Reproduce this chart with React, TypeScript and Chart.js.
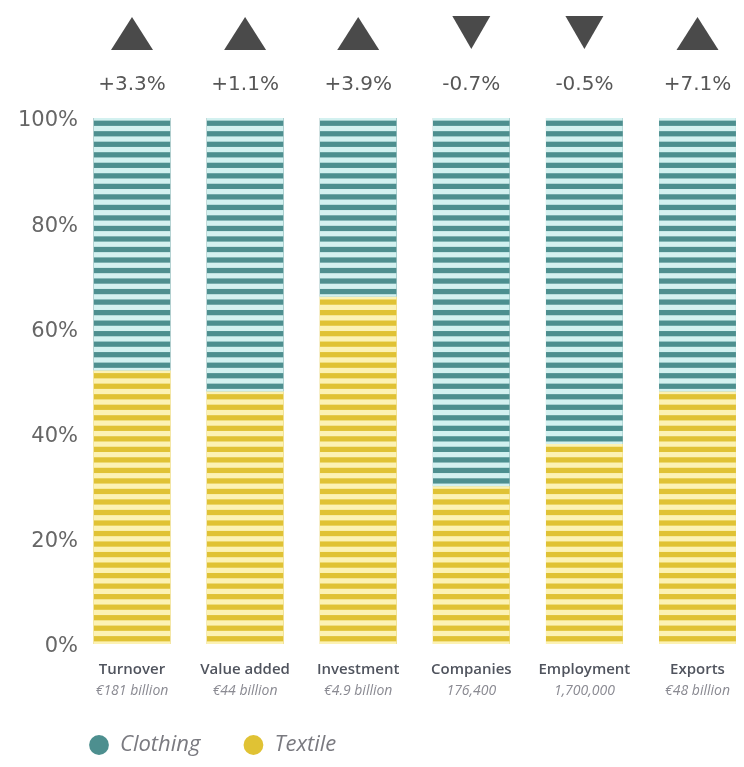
import React, { useEffect, useRef } from 'react';
import { Chart, registerables } from 'chart.js';

Chart.register(...registerables);

const categories = ['Turnover', 'Value added', 'Investment', 'Companies', 'Employment', 'Exports'];
const subLabels = ['€181 billion', '€44 billion', '€4.9 billion', '176,400', '1,700,000', '€48 billion'];
const changes = [3.3, 1.1, 3.9, -0.7, -0.5, 7.1];
const changeLabels = ['+3.3%', '+1.1%', '+3.9%', '-0.7%', '-0.5%', '+7.1%'];
const textileShare = [52, 48, 66, 30, 38, 48];
const clothingShare = [48, 52, 34, 70, 62, 52];
const seriesNames = ['Textile', 'Clothing'];
const yTickStep = 20;
const stripeStep = 2;

const FONT = "'Open Sans', 'DejaVu Sans', sans-serif";
const NUM_FONT = "'DejaVu Sans', 'Open Sans', sans-serif";
const DARK = ['#e0c234', '#4d8f8f'];
const LIGHT = ['#fcf2b4', '#d3f1f0'];

const stripePlugin = {
  id: 'stripes',
  afterDatasetsDraw(chart: any) {
    const { ctx } = chart;
    const ys = chart.scales.y;
    chart.data.datasets.forEach((_ds: any, di: number) => {
      const meta = chart.getDatasetMeta(di);
      meta.data.forEach((bar: any) => {
        const { x, y, base, width } = bar.getProps(['x', 'y', 'base', 'width'], true);
        const top = Math.min(y, base);
        const h = Math.abs(base - y);
        ctx.save();
        ctx.beginPath();
        ctx.rect(x - width / 2, top, width, h);
        ctx.clip();
        ctx.fillStyle = LIGHT[di];
        for (let lo = -stripeStep / 4; lo < 100 + stripeStep; lo += stripeStep) {
          const p0 = ys.getPixelForValue(lo);
          const p1 = ys.getPixelForValue(lo + stripeStep / 2);
          ctx.fillRect(x - width / 2, p1, width, p0 - p1);
        }
        ctx.restore();
      });
    });
  },
};

const legendShiftPlugin = {
  id: 'legendShift',
  afterLayout(chart: any) {
    const lg = chart.legend;
    if (lg) {
      lg.left += 79;
      lg.right += 79;
    }
  },
};

const decorPlugin = {
  id: 'decor',
  afterDraw(chart: any) {
    const { ctx, chartArea } = chart;
    const xs = chart.scales.x;
    const t = chartArea.top;
    ctx.save();
    changes.forEach((c, i) => {
      const cx = xs.getPixelForValue(i);
      ctx.fillStyle = '#4a4a4a';
      ctx.beginPath();
      if (c >= 0) {
        ctx.moveTo(cx - 21, t - 68);
        ctx.lineTo(cx + 21, t - 68);
        ctx.lineTo(cx, t - 101);
      } else {
        ctx.moveTo(cx - 19, t - 102);
        ctx.lineTo(cx + 19, t - 102);
        ctx.lineTo(cx, t - 69);
      }
      ctx.closePath();
      ctx.fill();
      ctx.fillStyle = '#575757';
      ctx.font = `20px ${NUM_FONT}`;
      ctx.textAlign = 'center';
      ctx.textBaseline = 'middle';
      ctx.fillText(changeLabels[i], cx, t - 33);
    });
    ctx.restore();
  },
};

export default function App() {
  const ref = useRef<HTMLCanvasElement>(null);

  useEffect(() => {
    if (!ref.current) return;
    const chart = new Chart(ref.current, {
      type: 'bar',
      data: {
        labels: categories,
        datasets: [
          {
            label: seriesNames[0],
            data: textileShare,
            backgroundColor: DARK[0],
            borderWidth: 0,
            xAxisID: 'x',
            clip: false as any,
          },
          {
            label: seriesNames[1],
            data: clothingShare,
            backgroundColor: DARK[1],
            borderWidth: 0,
            xAxisID: 'x',
            clip: false as any,
          },
        ],
      },
      options: {
        responsive: false,
        animation: false,
        events: [],
        categoryPercentage: 1,
        barPercentage: 0.68,
        layout: { padding: { top: 118, left: 0, right: 46.5, bottom: 1 } },
        scales: {
          x: {
            type: 'category',
            stacked: true,
            offset: false,
            grid: { display: false, drawTicks: false },
            border: { display: false },
            ticks: {
              autoSkip: false,
              maxRotation: 0,
              padding: 17,
              color: '#50545e',
              font: { family: FONT, size: 15, weight: 600 },
            },
            afterFit: (s: any) => {
              s.height = 35;
            },
          },
          y: {
            stacked: true,
            min: 0,
            max: 100,
            grid: { display: false, drawTicks: false },
            border: { display: false },
            ticks: {
              stepSize: yTickStep,
              padding: 54,
              labelOffset: 3,
              color: '#666666',
              font: { family: NUM_FONT, size: 21 },
              callback: (v: any) => `${v}%`,
            },
            afterFit: (s: any) => {
              s.width = 132;
            },
          },
          x2: {
            type: 'category',
            position: 'bottom',
            labels: subLabels,
            offset: false,
            grid: { display: false, drawTicks: false },
            border: { display: false },
            ticks: {
              autoSkip: false,
              maxRotation: 0,
              padding: 4,
              color: '#8a8a92',
              font: { family: FONT, size: 14, style: 'italic' },
            },
            afterFit: (s: any) => {
              s.height = 45;
            },
          },
        } as any,
        plugins: {
          tooltip: { enabled: false },
          legend: {
            position: 'bottom',
            align: 'start',
            reverse: true,
            labels: {
              usePointStyle: true,
              pointStyle: 'circle',
              boxWidth: 20,
              boxHeight: 14,
              padding: 10,
              color: '#7a7a80',
              font: { family: FONT, size: 22, style: 'italic' },
              generateLabels: (c: any) => {
                const items = (Chart.defaults.plugins.legend.labels as any).generateLabels(c);
                return items.map((it: any) =>
                  it.datasetIndex === 1 ? { ...it, text: it.text + '\u2003\u2002' } : it
                );
              },
            },
          },
        },
      },
      plugins: [stripePlugin, decorPlugin, legendShiftPlugin],
    });
    return () => chart.destroy();
  }, []);

  return (
    <div style={{ position: 'absolute', left: 0, top: 0, width: 744, height: 767, background: '#fff' }}>
      <canvas ref={ref} width={744} height={767} style={{ width: 744, height: 767 }} />
    </div>
  );
}
